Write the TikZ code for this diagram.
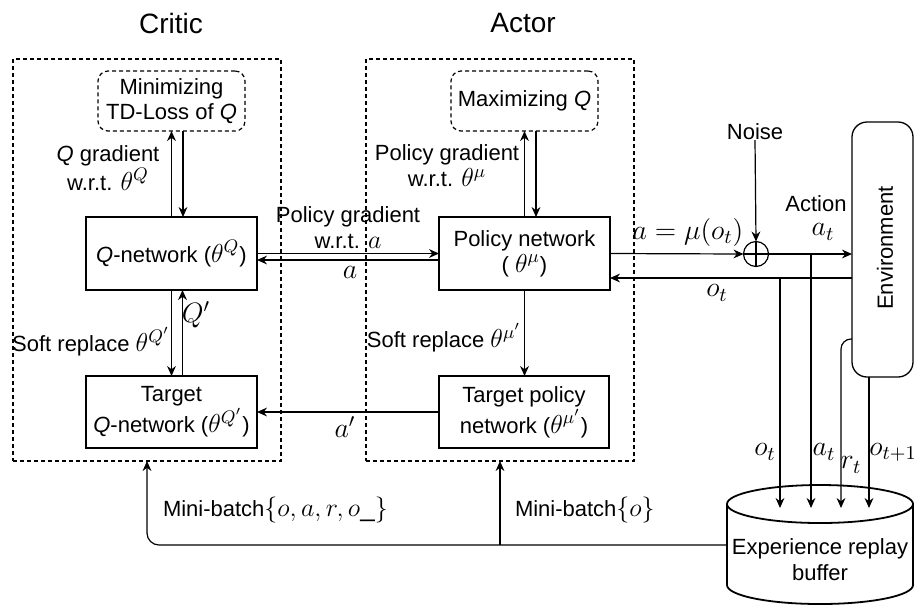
\RequirePackage{fix-cm}
\documentclass[tikz,border=0pt]{standalone}
\usepackage[no-math]{fontspec}
\setmainfont{Liberation Sans}
\usetikzlibrary{arrows.meta,calc}
\newcommand\M[1]{{\fontsize{13}{14}\selectfont$#1$}}
\newcommand\Ml[1]{{\fontsize{14}{15}\selectfont$#1$}}
\begin{document}
\begin{tikzpicture}[x=0.5pt,y=-0.5pt,
  every node/.style={font=\fontsize{11}{13}\selectfont, inner sep=0pt, outer sep=0pt},
  box/.style={draw, line width=0.65pt, fill=white, align=center},
  dbox/.style={draw, line width=0.6pt, dash pattern=on 2pt off 1.5pt, rounded corners=5pt, align=center},
  group/.style={draw, line width=0.6pt, dash pattern=on 2pt off 1.5pt},
  arr/.style={-{Stealth[length=5pt,width=4.4pt]}, line width=0.6pt},
  ln/.style={line width=0.6pt},
  title/.style={font=\fontsize{14}{16}\selectfont}]

\useasboundingbox (0,0) rectangle (914,607);

% titles
\node[title] (tc) at (171,23) {Critic};
\node[title] (ta) at (523,23) {Actor};

% groups
\node[group, minimum width=134pt, minimum height=201pt] (critic) at (147,260) {};
\node[group, minimum width=134pt, minimum height=201pt] (actor) at (500,260) {};

% boxes
\node[dbox, minimum width=73.5pt, minimum height=30pt, font=\fontsize{11}{12.5}\selectfont] (minq) at (171.5,101) {Minimizing\\TD-Loss of \textit{Q}};
\node[dbox, minimum width=73.5pt, minimum height=30pt] (maxq) at (524.5,101) {Maximizing \textit{Q}};
\node[box, minimum width=85.5pt, minimum height=36.5pt] (qnet) at (171.5,253.5) {\textit{Q}-network (\M{\theta^{Q}})};
\node[box, minimum width=85.5pt, minimum height=36.5pt] (pnet) at (524.5,253.5) {Policy network\\( \M{\theta^{\mu}})};
\node[box, minimum width=85.5pt, minimum height=36pt] (tq) at (171.5,412) {Target\\\textit{Q}-network (\M{\theta^{Q'}})};
\node[box, minimum width=85pt, minimum height=36pt, font=\fontsize{11}{14}\selectfont] (tp) at (524,412) {Target policy\\network (\M{\theta^{\mu'}})};

% environment
\node[draw, line width=0.65pt, rounded corners=7.5pt, minimum width=30.5pt, minimum height=127.5pt, fill=white] (env) at (882.5,249.5) {};
\node[rotate=90] (envt) at (885,248) {Environment};

% sum junction and noise
\node[circle, draw, line width=0.6pt, minimum size=12.5pt] (sum) at (756,254) {};
\draw[ln] (sum.north) -- (sum.south) (sum.west) -- (sum.east);
\node (noise) at (755,132) {Noise};
\draw[arr] (noise.south) -- (sum.north);

% replay buffer (cylinder)
\draw[line width=0.9pt, fill=white] (727,504) -- (727,585)
  arc[start angle=180, end angle=360, x radius=46.5pt, y radius=9.5pt] -- (913,504);
\draw[line width=0.9pt, fill=white] (820,504) ellipse [x radius=46.5pt, y radius=9.5pt];
\node[align=center] (buf) at (820,560) {Experience replay\\buffer};
\coordinate (bufl) at (727,545);

% helper coordinates
\coordinate (yot) at (0,278);
\coordinate (yrt) at (0,339);
\coordinate (xo) at (780,508);
\coordinate (xa) at (811,508);
\coordinate (xr) at (841,508);
\coordinate (xo1) at (869,508);

% critic / actor internal connectors
\draw[arr] (qnet.north) -- (qnet.north |- minq.south);
\draw[arr] ($(minq.south)+(11.5,0)$) -- ($(qnet.north)+(11.5,0)$);
\draw[arr] (pnet.north) -- (pnet.north |- maxq.south);
\draw[arr] ($(maxq.south)+(11.5,0)$) -- ($(pnet.north)+(11.5,0)$);

\draw[arr] (qnet.east) -- (pnet.west);
\draw[arr] ($(pnet.west)+(0,6.5)$) -- ($(qnet.east)+(0,6.5)$);

\draw[arr] (qnet.south) -- (qnet.south |- tq.north);
\draw[arr] ($(tq.north)+(11,0)$) -- ($(qnet.south)+(11,0)$);
\draw[arr] (pnet.south) -- (pnet.south |- tp.north);
\draw[arr] (tp.west) -- (tq.east);

% environment loop
\draw[arr] (pnet.east) -- (sum.west);
\draw[arr] (sum.east) -- (env.west |- sum.east);
\draw[arr] (env.west |- yot) -- (pnet.east |- yot);

% to buffer
\draw[arr] (xo |- yot) -- (xo);
\draw[arr] (xa |- sum.east) -- (xa);
\draw[arr, rounded corners=5pt] (env.west |- yrt) -| (xr);
\draw[arr] (xo1 |- env.south) -- (xo1);

% from buffer
\draw[arr, rounded corners=6pt] (bufl) -| (critic.south);
\draw[arr] (actor.south |- bufl) -- (actor.south);

% labels
\node[align=center] (lqg) at (108,168) {\textit{Q} gradient\\w.r.t. \M{\theta^{Q}}};
\node[align=center] (lpg) at (447,166) {Policy gradient\\w.r.t. \M{\theta^{\mu}}};
\node[align=center] (lpga) at (348,228) {Policy gradient\\w.r.t. \M{a}};
\node (la) at (350,272) {\Ml{a}};
\node (lsq) at (91,342) {Soft replace \M{\theta^{Q'}}};
\node (lsp) at (444,338) {Soft replace \M{\theta^{\mu'}}};
\node (lqp) at (196,315) {\Ml{Q'}};
\node (lap) at (345,427) {\Ml{a'}};
\node (lamu) at (688,232) {\Ml{a=\mu(o_t)}};
\node (lact) at (816,204) {Action};
\node (lat) at (823,232) {\Ml{a_t}};
\node (lot) at (717,293) {\Ml{o_t}};
\node (lot2) at (765,452) {\Ml{o_t}};
\node (lat2) at (824,452) {\Ml{a_t}};
\node (lrt) at (851,465) {\Ml{r_t}};
\node (lot1) at (893,452) {\Ml{o_{t+1}}};
\node[anchor=west] (lmb1) at (163,510) {Mini-batch\M{\bigl\{o,a,r,o\_\bigr\}}};
\node[anchor=west] (lmb2) at (515,510) {Mini-batch\M{\bigl\{o\bigr\}}};
\end{tikzpicture}
\end{document}
